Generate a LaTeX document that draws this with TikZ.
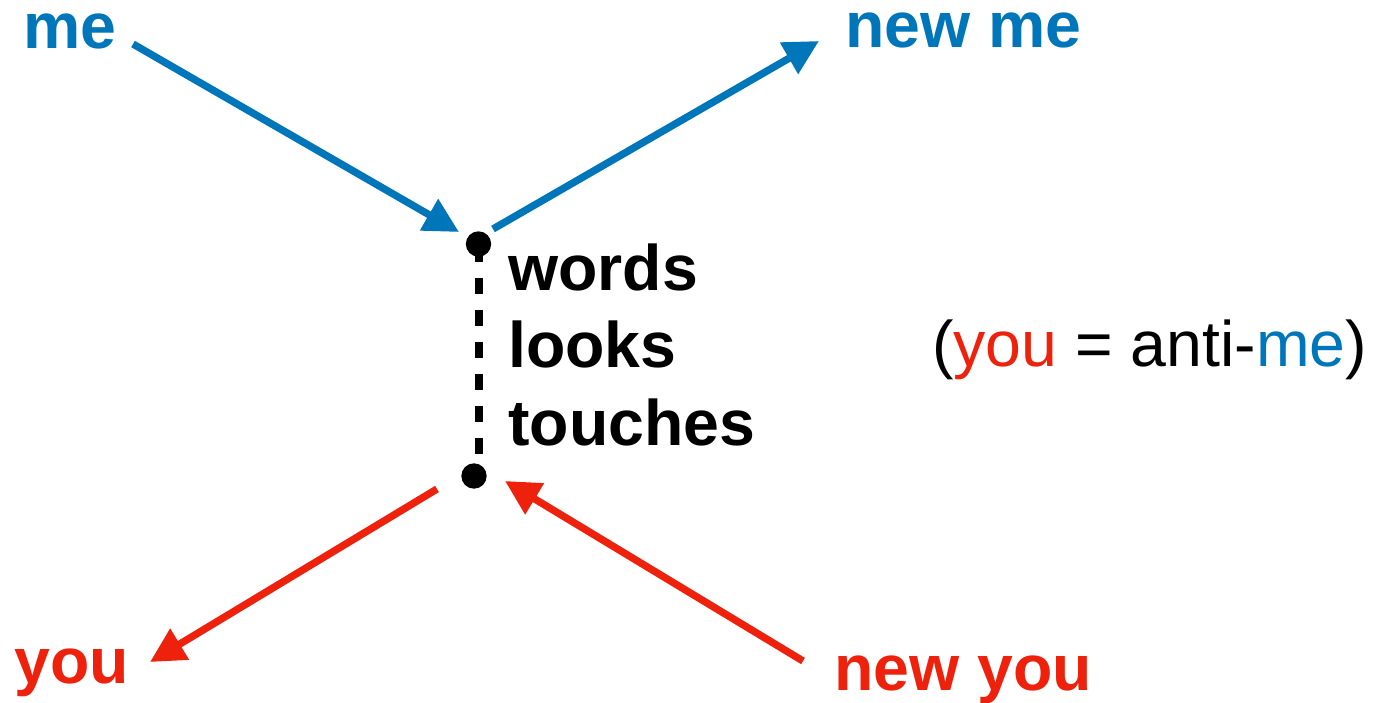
\documentclass[tikz,border=0pt]{standalone}
\usepackage{fontspec}
\setmainfont{Liberation Sans}
\usetikzlibrary{arrows.meta,backgrounds}
\definecolor{kblue}{HTML}{0076BA}
\definecolor{kred}{HTML}{EE220C}
\begin{document}
\begin{tikzpicture}[x=0.75pt,y=-0.75pt,
  lbl/.style={font=\bfseries\fontsize{48.3}{58}\selectfont, anchor=base west, inner sep=0pt},
  toplbl/.style={lbl, text height=26pt},
  note/.style={font=\fontsize{48.3}{58}\selectfont, anchor=base west, inner sep=0pt},
  dot/.style={circle, fill=black, inner sep=0pt, minimum size=19pt},
  arr/.style={line width=5.5pt, -{Triangle[length=26pt,width=26pt]}},
  link/.style={line width=6pt, dash pattern=on 12pt off 12pt, dash phase=22.5pt}]
\useasboundingbox (0,0) rectangle (1378,703);

% labels
\node[toplbl, text=kblue] (me) at (23,48) {me};
\node[toplbl, text=kblue] (newme) at (845,47) {new me};
\node[lbl, text=kred] (you) at (14,683) {you};
\node[lbl, text=kred] (newyou) at (834,690) {new you};
\node[lbl] (w1) at (508,290) {words};
\node[lbl] (w2) at (508,367.5) {looks};
\node[lbl] (w3) at (508,445) {touches};
\node[note] (eq) at (932,366) {(\textcolor{kred}{you} = anti-\textcolor{kblue}{me})};

% connector ends
\coordinate (a1s) at (133,44);
\coordinate (a1e) at (459,232);
\coordinate (a2s) at (493,229);
\coordinate (a2e) at (819,41);
\coordinate (a3s) at (437,489);
\coordinate (a3e) at (150,662);
\coordinate (a4s) at (803,661);
\coordinate (a4e) at (505,481);

% dots and vertical dashed link
\node[dot] (top) at (478.5,244) {};
\node[dot] (bot) at (474,476) {};
\coordinate (linkend) at (478.5,476);
\begin{pgfonlayer}{background}
\draw[link] (top.center) -- (linkend);
\end{pgfonlayer}

% arrows
\draw[arr, kblue] (a1s) -- (a1e);
\draw[arr, kblue] (a2s) -- (a2e);
\draw[arr, kred] (a3s) -- (a3e);
\draw[arr, kred] (a4s) -- (a4e);
\end{tikzpicture}
\end{document}
